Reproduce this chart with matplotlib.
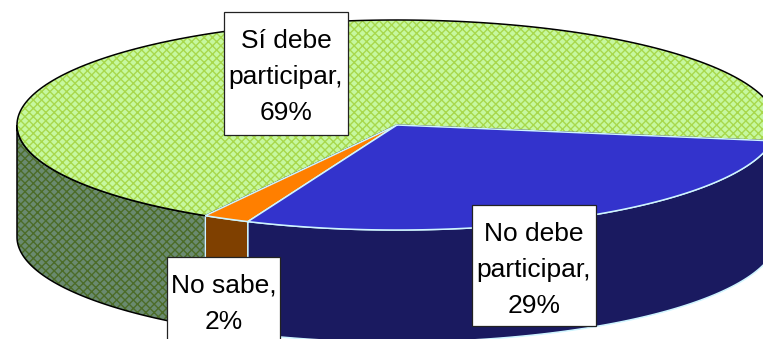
import numpy as np
import matplotlib
matplotlib.use("Agg")
import matplotlib.pyplot as plt
from matplotlib.patches import Polygon, Rectangle

plt.rcParams['font.family'] = ['Liberation Sans', 'DejaVu Sans']
plt.rcParams['hatch.linewidth'] = 1.0

categories = ["Sí debe\nparticipar,", "No sabe,", "No debe\nparticipar,"]
values = [69, 2, 29]

top_colors = ['#C6F8A0', '#FF7F00', '#3333CC']
side_colors = ['#6A8A70', '#7F4000', '#1A1A60']
hatch_colors = ['#A8D84C', None, None]
side_hatch_colors = ['#4C6C28', None, None]
edge_colors = ['black', '#CFF5FF', '#CFF5FF']

label_boxes = [(224, 12, 124, 123), (167, 257, 113, 90), (472, 205, 124, 121)]
line_height = 36

cx, cy, rx, ry, depth = 397, 125, 380, 105, 112
start_angle = -8.7


def ArcPoints(a1, a2, dy=0.0):
    t = np.radians(np.linspace(a1, a2, 200))
    return np.column_stack((cx + rx * np.cos(t), cy - ry * np.sin(t) + dy))


fig = plt.figure(figsize=(7.63, 3.39), dpi=100)
ax = fig.add_axes([0, 0, 1, 1])
ax.set_xlim(0, 763)
ax.set_ylim(339, 0)
ax.axis('off')

# slice limits come from the percentages
shares = np.array(values) / sum(values) * 360
ends = start_angle + np.cumsum(shares)
starts = ends - shares

# side wall first, only the front half of the ellipse shows
for i in range(len(values)):
    a1, a2 = max(starts[i], 180), min(ends[i], 360)
    if a2 <= a1:
        continue
    pts = np.vstack((ArcPoints(a1, a2), ArcPoints(a2, a1, depth)))
    ax.add_patch(Polygon(pts, closed=True, facecolor=side_colors[i], edgecolor='none'))
    if side_hatch_colors[i]:
        ax.add_patch(Polygon(pts, closed=True, facecolor='none', edgecolor=side_hatch_colors[i],
                             hatch='xxxx', linewidth=0))
    ax.add_patch(Polygon(pts, closed=True, facecolor='none', edgecolor=edge_colors[i], linewidth=1.1))

# top of the pie
for i in range(len(values)):
    pts = np.vstack(([[cx, cy]], ArcPoints(starts[i], ends[i])))
    ax.add_patch(Polygon(pts, closed=True, facecolor=top_colors[i], edgecolor='none'))
    if hatch_colors[i]:
        ax.add_patch(Polygon(pts, closed=True, facecolor='none', edgecolor=hatch_colors[i],
                             hatch='xxxx', linewidth=0))
    ax.add_patch(Polygon(pts, closed=True, facecolor='none', edgecolor=edge_colors[i], linewidth=1.1))

# labels sit in white boxes, lines placed one by one to get the wide spacing
for i in range(len(values)):
    x, y, w, h = label_boxes[i]
    ax.add_patch(Rectangle((x, y), w, h, facecolor='white', edgecolor='#222222', linewidth=0.9, zorder=5))
    lines = f"{categories[i]}\n{values[i]}%".split("\n")
    for n, line in enumerate(lines):
        ax.text(x + w / 2, y + 36 + n * line_height, line, ha='center', va='baseline', fontsize=19,
                color='black', zorder=6)

fig.savefig("out.png", dpi=100, facecolor='white')
